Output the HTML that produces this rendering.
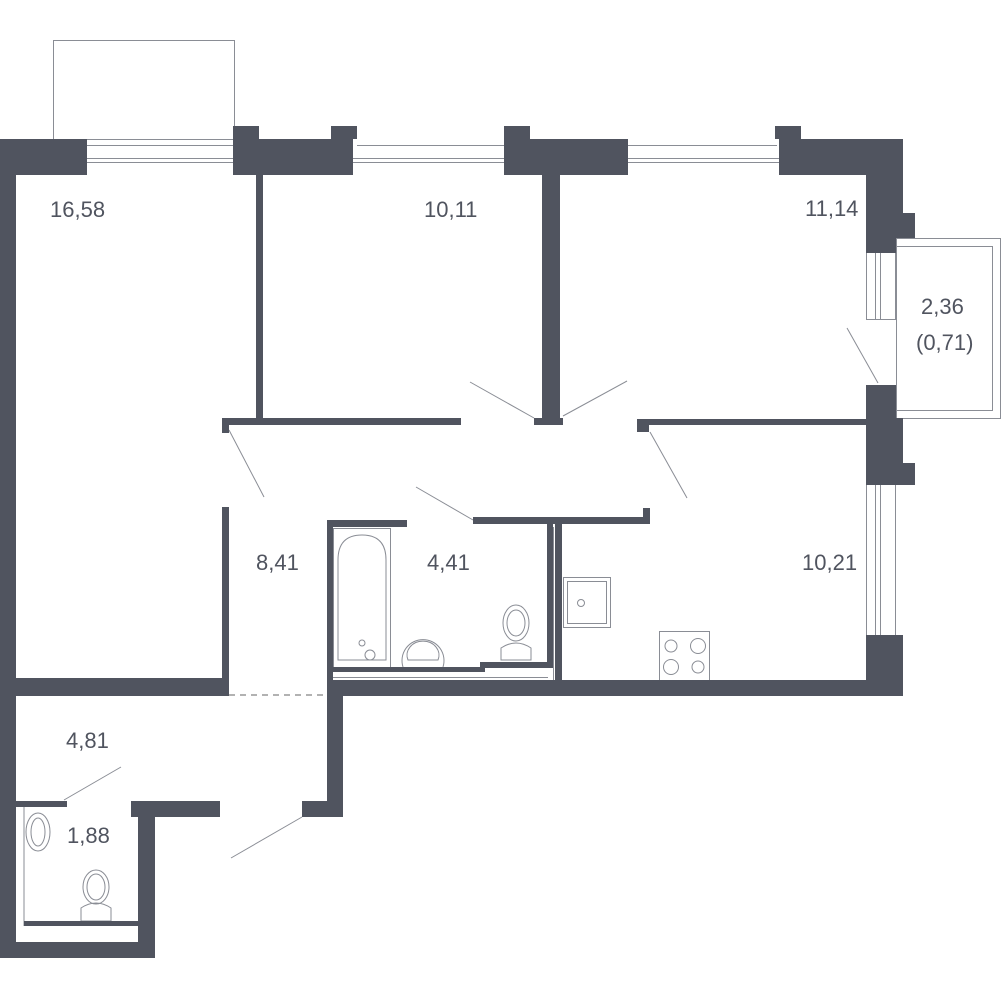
<!DOCTYPE html>
<html><head><meta charset="utf-8"><style>
html,body{margin:0;padding:0;background:#fff;}
svg{display:block;}
text{font-family:"Liberation Sans Narrow","Liberation Sans",sans-serif;font-size:22px;fill:#50545f;}
</style></head><body>
<svg width="1001" height="1000" viewBox="0 0 1001 1000" xmlns="http://www.w3.org/2000/svg">
<g fill="none" stroke="#8a8d95" stroke-width="1">
<!-- balcony 1 -->
<rect x="53.5" y="40.5" width="181" height="99"/>
<!-- balcony 2 -->
<rect x="896.5" y="238.5" width="104" height="180"/>
<rect x="896.5" y="246.5" width="96" height="164"/>
<!-- windows top -->
<line x1="87" y1="145.5" x2="233" y2="145.5"/><line x1="83" y1="158.5" x2="237" y2="158.5"/><line x1="83" y1="162.5" x2="237" y2="162.5"/>
<line x1="357" y1="145.5" x2="504" y2="145.5"/><line x1="353" y1="158.5" x2="508" y2="158.5"/><line x1="353" y1="162.5" x2="508" y2="162.5"/>
<line x1="628" y1="145.5" x2="777" y2="145.5"/><line x1="625" y1="158.5" x2="779" y2="158.5"/><line x1="625" y1="162.5" x2="779" y2="162.5"/>
<!-- side windows -->
<line x1="866.5" y1="253" x2="866.5" y2="320"/><line x1="875.5" y1="253" x2="875.5" y2="320"/><line x1="880.5" y1="253" x2="880.5" y2="320"/><line x1="895.5" y1="253" x2="895.5" y2="320"/><line x1="866" y1="319.5" x2="896" y2="319.5"/>
<line x1="866.5" y1="485" x2="866.5" y2="635"/><line x1="875.5" y1="485" x2="875.5" y2="635"/><line x1="880.5" y1="485" x2="880.5" y2="635"/><line x1="895.5" y1="485" x2="895.5" y2="635"/>
<!-- door swings -->
<line x1="229" y1="430" x2="264" y2="497"/>
<line x1="470" y1="382" x2="534" y2="418"/>
<line x1="563" y1="416" x2="627" y2="381"/>
<line x1="650" y1="432" x2="687" y2="498"/>
<line x1="878" y1="383" x2="847" y2="328"/>
<line x1="473" y1="520" x2="416" y2="487"/>
<line x1="64" y1="800" x2="121" y2="767"/>
<line x1="302" y1="817" x2="231" y2="858"/>
<!-- bath fixtures -->
<rect x="333.5" y="528.5" width="57" height="139"/>
<path d="M338 660 V560 Q338 535 362 535 Q386 535 386 560 V660 Z"/>
<circle cx="362" cy="643" r="3"/><circle cx="370" cy="655" r="5"/>
<path d="M403 667 A21 21 0 1 1 443 667"/>
<path d="M408 660 A16 14 0 1 1 438 660 Z"/>
<ellipse cx="516" cy="623" rx="13" ry="18"/><ellipse cx="516" cy="623" rx="9" ry="13"/>
<path d="M501 660 V648 Q516 638 531 648 V660 Z"/>
<!-- wc 1.88 -->
<ellipse cx="38" cy="832" rx="12" ry="19"/><ellipse cx="38" cy="832" rx="7" ry="14"/>
<ellipse cx="96" cy="887" rx="13" ry="17"/><ellipse cx="96" cy="887" rx="9" ry="13"/>
<path d="M81 921 V908 Q96 898 111 908 V921 Z"/>
<!-- kitchen -->
<rect x="563.5" y="577.5" width="47" height="50"/><rect x="567.5" y="581.5" width="39" height="42"/><circle cx="581" cy="603" r="3.5"/>
<rect x="659.5" y="631.5" width="50" height="49"/>
<circle cx="671" cy="646" r="6"/><circle cx="698" cy="646" r="7.5"/><circle cx="671" cy="667" r="7.5"/><circle cx="698" cy="667" r="6"/>
<!-- thin walls -->
<line x1="553.5" y1="527" x2="553.5" y2="680"/>
<line x1="24" y1="807" x2="24" y2="926"/>
<line x1="333" y1="677.5" x2="548" y2="677.5"/>
</g>
<line x1="229" y1="695" x2="327" y2="695" stroke="#999" stroke-width="1.5" stroke-dasharray="6,5"/>
<g fill="#50545f">
<!-- top walls -->
<rect x="0" y="139" width="87" height="36"/>
<rect x="233" y="126" width="26" height="49"/>
<rect x="237" y="139" width="116" height="36"/>
<rect x="331" y="126" width="26" height="13"/>
<rect x="504" y="126" width="26" height="49"/>
<rect x="508" y="139" width="52" height="36"/>
<rect x="540" y="139" width="88" height="36"/>
<rect x="775" y="126" width="26" height="13"/>
<rect x="779" y="139" width="124" height="36"/>
<rect x="866" y="139" width="37" height="99"/>
<rect x="903" y="213" width="12" height="25"/>
<rect x="866" y="238" width="30" height="15"/>
<rect x="866" y="385" width="30" height="33"/>
<rect x="866" y="418" width="37" height="67"/>
<rect x="903" y="463" width="12" height="22"/>
<rect x="866" y="635" width="37" height="61"/>
<!-- left wall -->
<rect x="0" y="139" width="16" height="819"/>
<rect x="0" y="942" width="155" height="16"/>
<rect x="138" y="801" width="17" height="157"/>
<rect x="131" y="801" width="89" height="16"/>
<rect x="16" y="801" width="51" height="6"/>
<rect x="24" y="921" width="114" height="5"/>
<!-- interior -->
<rect x="256" y="175" width="7" height="245"/>
<rect x="222" y="418" width="239" height="7"/>
<rect x="222" y="418" width="7" height="15"/>
<rect x="542" y="175" width="18" height="250"/>
<rect x="534" y="418" width="29" height="7"/>
<rect x="637" y="419" width="229" height="6"/>
<rect x="637" y="419" width="12" height="13"/>
<rect x="222" y="507" width="7" height="173"/>
<rect x="16" y="678" width="213" height="18"/>
<rect x="327" y="680" width="576" height="16"/>
<rect x="327" y="680" width="16" height="137"/>
<rect x="302" y="801" width="41" height="16"/>
<!-- bath -->
<rect x="327" y="520" width="6" height="160"/>
<rect x="327" y="520" width="80" height="7"/>
<rect x="473" y="517" width="177" height="7"/>
<rect x="643" y="508" width="7" height="16"/>
<rect x="547" y="524" width="6" height="144"/>
<rect x="480" y="662" width="73" height="6"/>
<rect x="333" y="667" width="152" height="5"/>
<rect x="480" y="662" width="5" height="10"/>
<rect x="555" y="524" width="7" height="156"/>
</g>
<text x="50" y="217">16,58</text>
<text x="424" y="217">10,11</text>
<text x="805" y="216">11,14</text>
<text x="921" y="314">2,36</text>
<text x="916" y="350">(0,71)</text>
<text x="256" y="570">8,41</text>
<text x="427" y="570">4,41</text>
<text x="802" y="570">10,21</text>
<text x="66" y="748">4,81</text>
<text x="67" y="843">1,88</text>
</svg>
</body></html>
